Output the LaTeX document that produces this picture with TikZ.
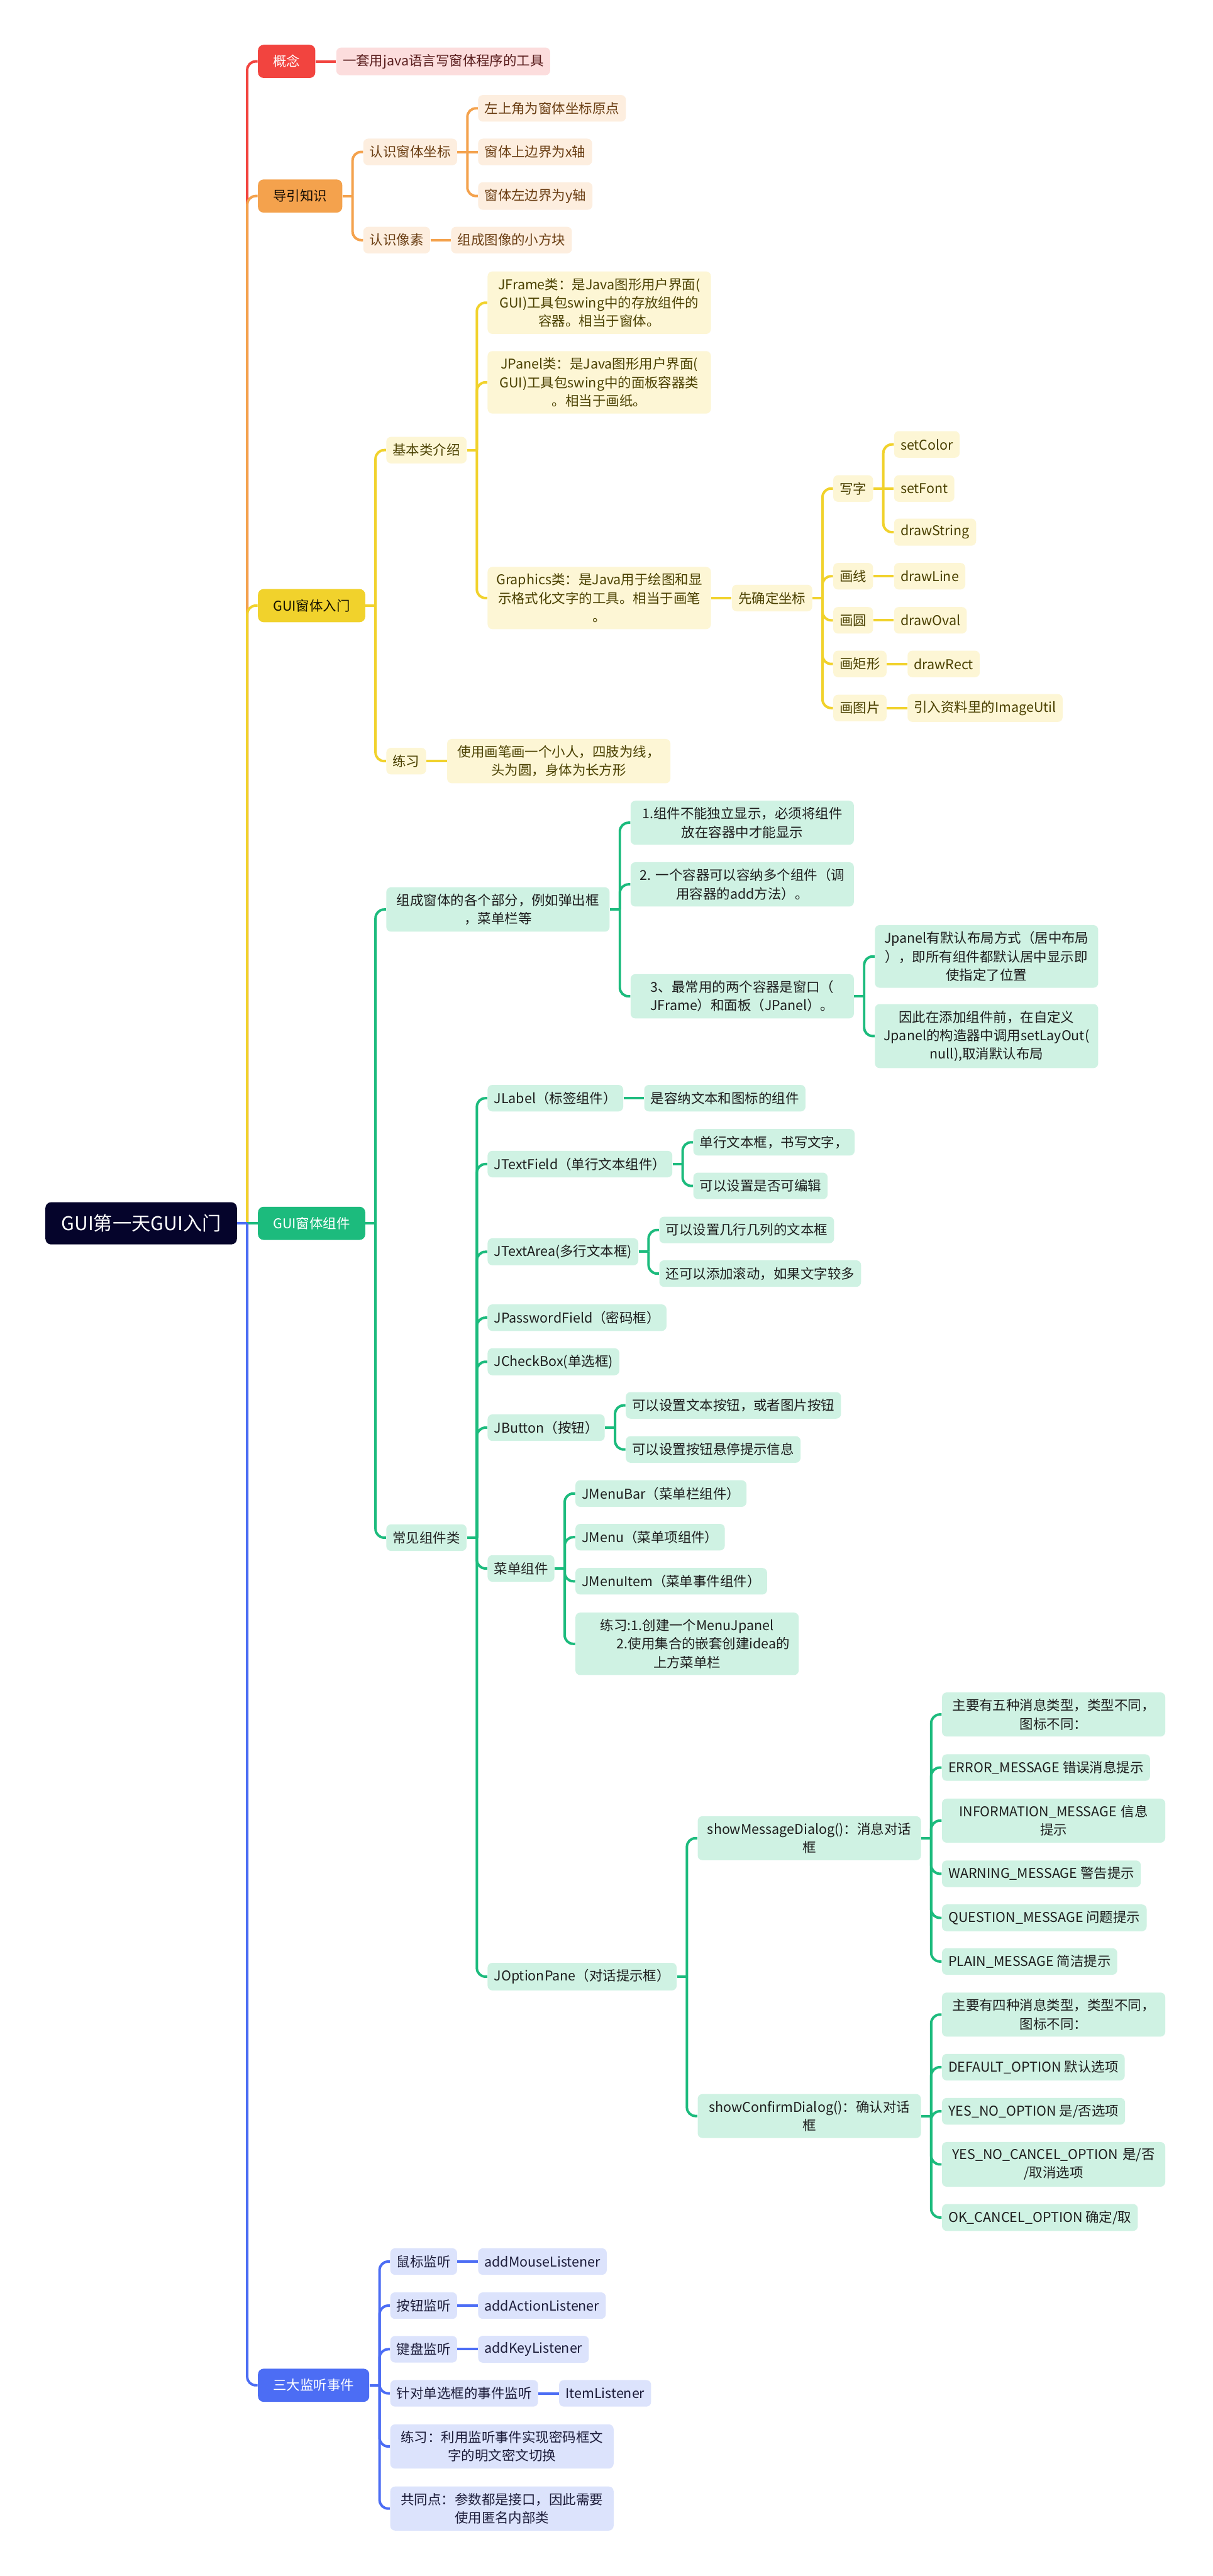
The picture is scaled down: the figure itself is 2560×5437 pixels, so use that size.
\documentclass[tikz,border=0pt]{standalone}
\usepackage{fontspec}
\setmainfont{Noto Sans CJK SC}
\usepackage{xcolor}
\usepackage{tikz}
\usetikzlibrary{positioning}

\definecolor{rootfill}{HTML}{05042B}
\definecolor{conceptfill}{HTML}{F2443F}
\definecolor{conceptlight}{HTML}{FCDDDD}
\definecolor{concepttext}{HTML}{5A1E1E}
\definecolor{guidefill}{HTML}{F4A24D}
\definecolor{guidelight}{HTML}{FDEEDF}
\definecolor{guidetext}{HTML}{6A3D12}
\definecolor{introfill}{HTML}{F1D22C}
\definecolor{introlight}{HTML}{FDF6D5}
\definecolor{introtext}{HTML}{4A4000}
\definecolor{widgetfill}{HTML}{1CBB7D}
\definecolor{widgetlight}{HTML}{CFF2E3}
\definecolor{widgettext}{HTML}{1E1E1E}
\definecolor{listenfill}{HTML}{4C6DF4}
\definecolor{listenlight}{HTML}{DCE3FC}
\definecolor{listentext}{HTML}{1C1C3A}

\begin{document}
\begin{tikzpicture}[
    x=0.01cm, y=-0.01cm,
    subbox/.style={rectangle, rounded corners=0.1cm, inner xsep=0.135cm, inner ysep=0.137cm, minimum height=0.56cm, align=center, font=\fontsize{8.1pt}{11.1pt}\selectfont},
    widebox/.style={text width=4.44cm},
    mainbox/.style={subbox, rounded corners=0.12cm, inner xsep=0.32cm, minimum height=0.70cm},
    rootbox/.style={rectangle, rounded corners=0.12cm, fill=rootfill, text=white, minimum width=4.04cm, minimum height=0.89cm, font=\fontsize{11.4pt}{14pt}\selectfont},
    conceptnode/.style={mainbox, fill=conceptfill, text=white},
    conceptleaf/.style={subbox, fill=conceptlight, text=concepttext},
    guidenode/.style={mainbox, fill=guidefill, text=black!80!guidetext},
    guideleaf/.style={subbox, fill=guidelight, text=guidetext},
    intronode/.style={mainbox, fill=introfill, text=black!75!introtext},
    introleaf/.style={subbox, fill=introlight, text=introtext},
    widgetnode/.style={mainbox, fill=widgetfill, text=white},
    widgetleaf/.style={subbox, fill=widgetlight, text=widgettext},
    listennode/.style={mainbox, fill=listenfill, text=white},
    listenleaf/.style={subbox, fill=listenlight, text=listentext},
    link/.style={line width=1.5pt, rounded corners=0.18cm},
    conceptline/.style={link, draw=conceptfill},
    guideline/.style={link, draw=guidefill},
    introline/.style={link, draw=introfill},
    widgetline/.style={link, draw=widgetfill},
    listenline/.style={link, draw=listenfill}
]
\fill[white] (0,0) rectangle (2560,5437);
\useasboundingbox (0,0) rectangle (2560,5437);

\node[rootbox] (root) at (298,2582) {GUI第一天GUI入门};

% main branches
\node[conceptnode, right=0.43cm of root, yshift=24.51cm] (concept) {概念};
\node[guidenode, right=0.43cm of root, yshift=21.67cm] (guide) {导引知识};
\node[intronode, right=0.43cm of root, yshift=13.03cm] (intro) {GUI窗体入门};
\node[widgetnode, right=0.43cm of root] (widget) {GUI窗体组件};
\node[listennode, right=0.43cm of root, yshift=-24.51cm] (listen) {三大监听事件};

% concept
\node[conceptleaf, right=0.43cm of concept] (conceptdef) {一套用java语言写窗体程序的工具};

% guide
\node[guideleaf, right=0.43cm of guide, yshift=0.93cm] (coord) {认识窗体坐标};
\node[guideleaf, right=0.43cm of guide, yshift=-0.93cm] (pixel) {认识像素};
\node[guideleaf, right=0.43cm of coord, yshift=0.92cm] (origin) {左上角为窗体坐标原点};
\node[guideleaf, right=0.43cm of coord] (xaxis) {窗体上边界为x轴};
\node[guideleaf, right=0.43cm of coord, yshift=-0.93cm] (yaxis) {窗体左边界为y轴};
\node[guideleaf, right=0.43cm of pixel] (pixeldef) {组成图像的小方块};

% intro
\node[introleaf, right=0.43cm of intro, yshift=3.28cm] (classes) {基本类介绍};
\node[introleaf, right=0.43cm of intro, yshift=-3.28cm] (drill) {练习};
\node[introleaf, widebox, right=0.43cm of classes, yshift=3.11cm] (jframe) {JFrame类：是Java图形用户界面(\\GUI)工具包swing中的存放组件的\\容器。相当于窗体。};
\node[introleaf, widebox, right=0.43cm of classes, yshift=1.43cm] (jpanel) {JPanel类：是Java图形用户界面(\\GUI)工具包swing中的面板容器类\\。相当于画纸。};
\node[introleaf, widebox, right=0.43cm of classes, yshift=-3.12cm] (graphics) {Graphics类：是Java用于绘图和显\\示格式化文字的工具。相当于画笔\\。};
\node[introleaf, right=0.43cm of graphics] (setxy) {先确定坐标};
\node[introleaf, right=0.43cm of setxy, yshift=2.31cm] (write) {写字};
\node[introleaf, right=0.43cm of setxy, yshift=0.46cm] (pline) {画线};
\node[introleaf, right=0.43cm of setxy, yshift=-0.47cm] (poval) {画圆};
\node[introleaf, right=0.43cm of setxy, yshift=-1.39cm] (prect) {画矩形};
\node[introleaf, right=0.43cm of setxy, yshift=-2.32cm] (pimage) {画图片};
\node[introleaf, right=0.43cm of write, yshift=0.93cm] (setcolor) {setColor};
\node[introleaf, right=0.43cm of write] (setfont) {setFont};
\node[introleaf, right=0.43cm of write, yshift=-0.92cm] (drawstring) {drawString};
\node[introleaf, right=0.43cm of pline] (drawline) {drawLine};
\node[introleaf, right=0.43cm of poval] (drawoval) {drawOval};
\node[introleaf, right=0.43cm of prect] (drawrect) {drawRect};
\node[introleaf, right=0.43cm of pimage] (imageutil) {引入资料里的ImageUtil};
\node[introleaf, widebox, right=0.43cm of drill] (drilltext) {使用画笔画一个小人，四肢为线，\\头为圆，身体为长方形};

% widget
\node[widgetleaf, widebox, right=0.43cm of widget, yshift=6.62cm] (parts) {组成窗体的各个部分，例如弹出框\\，菜单栏等};
\node[widgetleaf, right=0.43cm of widget, yshift=-6.63cm] (common) {常见组件类};
\node[widgetleaf, widebox, right=0.43cm of parts, yshift=1.83cm] (rule1) {1.组件不能独立显示，必须将组件\\放在容器中才能显示};
\node[widgetleaf, widebox, right=0.43cm of parts, yshift=0.53cm] (rule2) {2.~一个容器可以容纳多个组件（调\\用容器的add方法）。};
\node[widgetleaf, widebox, right=0.43cm of parts, yshift=-1.83cm] (rule3) {3、最常用的两个容器是窗口（\\JFrame）和面板（JPanel）。};
\node[widgetleaf, widebox, right=0.43cm of rule3, yshift=0.84cm] (layout) {Jpanel有默认布局方式（居中布局\\），即所有组件都默认居中显示即\\使指定了位置};
\node[widgetleaf, widebox, right=0.43cm of rule3, yshift=-0.84cm] (nolayout) {因此在添加组件前，在自定义\\Jpanel的构造器中调用setLayOut(\\null),取消默认布局};

\node[widgetleaf, right=0.43cm of common, yshift=9.27cm] (jlabel) {JLabel（标签组件）};
\node[widgetleaf, right=0.43cm of common, yshift=7.88cm] (jtextfield) {JTextField（单行文本组件）};
\node[widgetleaf, right=0.43cm of common, yshift=6.03cm] (jtextarea) {JTextArea(多行文本框)};
\node[widgetleaf, right=0.43cm of common, yshift=4.64cm] (jpassword) {JPasswordField（密码框）};
\node[widgetleaf, right=0.43cm of common, yshift=3.71cm] (jcheckbox) {JCheckBox(单选框)};
\node[widgetleaf, right=0.43cm of common, yshift=2.32cm] (jbutton) {JButton（按钮）};
\node[widgetleaf, right=0.43cm of common, yshift=-0.65cm] (menus) {菜单组件};
\node[widgetleaf, right=0.43cm of common, yshift=-9.26cm] (joption) {JOptionPane（对话提示框）};

\node[widgetleaf, right=0.43cm of jlabel] (jlabeldef) {是容纳文本和图标的组件};
\node[widgetleaf, right=0.43cm of jtextfield, yshift=0.46cm] (tf1) {单行文本框，书写文字，};
\node[widgetleaf, right=0.43cm of jtextfield, yshift=-0.46cm] (tf2) {可以设置是否可编辑};
\node[widgetleaf, right=0.43cm of jtextarea, yshift=0.46cm] (ta1) {可以设置几行几列的文本框};
\node[widgetleaf, right=0.43cm of jtextarea, yshift=-0.46cm] (ta2) {还可以添加滚动，如果文字较多};
\node[widgetleaf, right=0.43cm of jbutton, yshift=0.47cm] (bt1) {可以设置文本按钮，或者图片按钮};
\node[widgetleaf, right=0.43cm of jbutton, yshift=-0.46cm] (bt2) {可以设置按钮悬停提示信息};

\node[widgetleaf, right=0.43cm of menus, yshift=1.58cm] (jmenubar) {JMenuBar（菜单栏组件）};
\node[widgetleaf, right=0.43cm of menus, yshift=0.66cm] (jmenu) {JMenu（菜单项组件）};
\node[widgetleaf, right=0.43cm of menus, yshift=-0.27cm] (jmenuitem) {JMenuItem（菜单事件组件）};
\node[widgetleaf, widebox, right=0.43cm of menus, yshift=-1.59cm] (menudrill) {练习:1.创建一个MenuJpanel\\\hspace*{2.4em}2.使用集合的嵌套创建idea的\\上方菜单栏};

\node[widgetleaf, widebox, right=0.43cm of joption, yshift=2.92cm] (showmsg) {showMessageDialog()：消息对话\\框};
\node[widgetleaf, widebox, right=0.43cm of joption, yshift=-2.94cm] (showconfirm) {showConfirmDialog()：确认对话\\框};

\node[widgetleaf, widebox, right=0.43cm of showmsg, yshift=2.61cm] (msgtypes) {主要有五种消息类型，类型不同，\\图标不同：};
\node[widgetleaf, right=0.43cm of showmsg, yshift=1.49cm] (errormsg) {ERROR\_MESSAGE 错误消息提示};
\node[widgetleaf, widebox, right=0.43cm of showmsg, yshift=0.37cm] (infomsg) {INFORMATION\_MESSAGE~信息\\提示};
\node[widgetleaf, right=0.43cm of showmsg, yshift=-0.75cm] (warnmsg) {WARNING\_MESSAGE 警告提示};
\node[widgetleaf, right=0.43cm of showmsg, yshift=-1.68cm] (questionmsg) {QUESTION\_MESSAGE 问题提示};
\node[widgetleaf, right=0.43cm of showmsg, yshift=-2.60cm] (plainmsg) {PLAIN\_MESSAGE 简洁提示};

\node[widgetleaf, widebox, right=0.43cm of showconfirm, yshift=2.14cm] (opttypes) {主要有四种消息类型，类型不同，\\图标不同：};
\node[widgetleaf, right=0.43cm of showconfirm, yshift=1.03cm] (defaultopt) {DEFAULT\_OPTION 默认选项};
\node[widgetleaf, right=0.43cm of showconfirm, yshift=0.10cm] (yesnoopt) {YES\_NO\_OPTION 是/否选项};
\node[widgetleaf, widebox, right=0.43cm of showconfirm, yshift=-1.02cm] (yesnocancelopt) {YES\_NO\_CANCEL\_OPTION~是/否\\/取消选项};
\node[widgetleaf, right=0.43cm of showconfirm, yshift=-2.14cm] (okcancelopt) {OK\_CANCEL\_OPTION 确定/取};

% listen
\node[listenleaf, right=0.43cm of listen, yshift=2.61cm] (mouse) {鼠标监听};
\node[listenleaf, right=0.43cm of listen, yshift=1.68cm] (button) {按钮监听};
\node[listenleaf, right=0.43cm of listen, yshift=0.76cm] (keyb) {键盘监听};
\node[listenleaf, right=0.43cm of listen, yshift=-0.17cm] (item) {针对单选框的事件监听};
\node[listenleaf, widebox, right=0.43cm of listen, yshift=-1.29cm] (listendrill) {练习：利用监听事件实现密码框文\\字的明文密文切换};
\node[listenleaf, widebox, right=0.43cm of listen, yshift=-2.60cm] (shared) {共同点：参数都是接口，因此需要\\使用匿名内部类};
\node[listenleaf, right=0.43cm of mouse] (mousel) {addMouseListener};
\node[listenleaf, right=0.43cm of button] (actionl) {addActionListener};
\node[listenleaf, right=0.43cm of keyb] (keyl) {addKeyListener};
\node[listenleaf, right=0.43cm of item] (iteml) {ItemListener};

% trunk
\coordinate (root-j) at ([xshift=0.21cm]root.east);
\draw[conceptline] (root-j) |- (concept.west);
\draw[guideline] (root-j) |- (guide.west);
\draw[introline] (root-j) |- (intro.west);
\draw[widgetline] (root-j) -- (widget.west);
\draw[listenline] (root-j) |- (listen.west);
\draw[listenline] (root) -- (root-j);

% concept links
\draw[conceptline] (concept) -- (conceptdef);

% guide links
\coordinate (guide-j) at ([xshift=0.21cm]guide.east);
\draw[guideline] (guide) -- (guide-j);
\foreach \k in {coord,pixel} \draw[guideline] (guide-j) |- (\k.west);
\coordinate (coord-j) at ([xshift=0.21cm]coord.east);
\draw[guideline] (coord) -- (xaxis);
\foreach \k in {origin,yaxis} \draw[guideline] (coord-j) |- (\k.west);
\draw[guideline] (pixel) -- (pixeldef);

% intro links
\coordinate (intro-j) at ([xshift=0.21cm]intro.east);
\draw[introline] (intro) -- (intro-j);
\foreach \k in {classes,drill} \draw[introline] (intro-j) |- (\k.west);
\coordinate (classes-j) at ([xshift=0.21cm]classes.east);
\draw[introline] (classes) -- (classes-j);
\foreach \k in {jframe,jpanel,graphics} \draw[introline] (classes-j) |- (\k.west);
\draw[introline] (graphics) -- (setxy);
\coordinate (setxy-j) at ([xshift=0.21cm]setxy.east);
\draw[introline] (setxy) -- (setxy-j);
\foreach \k in {write,pline,poval,prect,pimage} \draw[introline] (setxy-j) |- (\k.west);
\coordinate (write-j) at ([xshift=0.21cm]write.east);
\draw[introline] (write) -- (setfont);
\foreach \k in {setcolor,drawstring} \draw[introline] (write-j) |- (\k.west);
\draw[introline] (pline) -- (drawline);
\draw[introline] (poval) -- (drawoval);
\draw[introline] (prect) -- (drawrect);
\draw[introline] (pimage) -- (imageutil);
\draw[introline] (drill) -- (drilltext);

% widget links
\coordinate (widget-j) at ([xshift=0.21cm]widget.east);
\draw[widgetline] (widget) -- (widget-j);
\foreach \k in {parts,common} \draw[widgetline] (widget-j) |- (\k.west);
\coordinate (parts-j) at ([xshift=0.21cm]parts.east);
\draw[widgetline] (parts) -- (parts-j);
\foreach \k in {rule1,rule2,rule3} \draw[widgetline] (parts-j) |- (\k.west);
\coordinate (rule3-j) at ([xshift=0.21cm]rule3.east);
\draw[widgetline] (rule3) -- (rule3-j);
\foreach \k in {layout,nolayout} \draw[widgetline] (rule3-j) |- (\k.west);
\coordinate (common-j) at ([xshift=0.21cm]common.east);
\draw[widgetline] (common) -- (common-j);
\foreach \k in {jlabel,jtextfield,jtextarea,jpassword,jcheckbox,jbutton,menus,joption} \draw[widgetline] (common-j) |- (\k.west);
\draw[widgetline] (jlabel) -- (jlabeldef);
\coordinate (jtextfield-j) at ([xshift=0.21cm]jtextfield.east);
\draw[widgetline] (jtextfield) -- (jtextfield-j);
\foreach \k in {tf1,tf2} \draw[widgetline] (jtextfield-j) |- (\k.west);
\coordinate (jtextarea-j) at ([xshift=0.21cm]jtextarea.east);
\draw[widgetline] (jtextarea) -- (jtextarea-j);
\foreach \k in {ta1,ta2} \draw[widgetline] (jtextarea-j) |- (\k.west);
\coordinate (jbutton-j) at ([xshift=0.21cm]jbutton.east);
\draw[widgetline] (jbutton) -- (jbutton-j);
\foreach \k in {bt1,bt2} \draw[widgetline] (jbutton-j) |- (\k.west);
\coordinate (menus-j) at ([xshift=0.21cm]menus.east);
\draw[widgetline] (menus) -- (menus-j);
\foreach \k in {jmenubar,jmenu,jmenuitem,menudrill} \draw[widgetline] (menus-j) |- (\k.west);
\coordinate (joption-j) at ([xshift=0.21cm]joption.east);
\draw[widgetline] (joption) -- (joption-j);
\foreach \k in {showmsg,showconfirm} \draw[widgetline] (joption-j) |- (\k.west);
\coordinate (showmsg-j) at ([xshift=0.21cm]showmsg.east);
\draw[widgetline] (showmsg) -- (showmsg-j);
\foreach \k in {msgtypes,errormsg,infomsg,warnmsg,questionmsg,plainmsg} \draw[widgetline] (showmsg-j) |- (\k.west);
\coordinate (showconfirm-j) at ([xshift=0.21cm]showconfirm.east);
\draw[widgetline] (showconfirm) -- (showconfirm-j);
\foreach \k in {opttypes,defaultopt,yesnoopt,yesnocancelopt,okcancelopt} \draw[widgetline] (showconfirm-j) |- (\k.west);

% listen links
\coordinate (listen-j) at ([xshift=0.21cm]listen.east);
\draw[listenline] (listen) -- (listen-j);
\foreach \k in {mouse,button,keyb,item,listendrill,shared} \draw[listenline] (listen-j) |- (\k.west);
\draw[listenline] (mouse) -- (mousel);
\draw[listenline] (button) -- (actionl);
\draw[listenline] (keyb) -- (keyl);
\draw[listenline] (item) -- (iteml);
\end{tikzpicture}
\end{document}
